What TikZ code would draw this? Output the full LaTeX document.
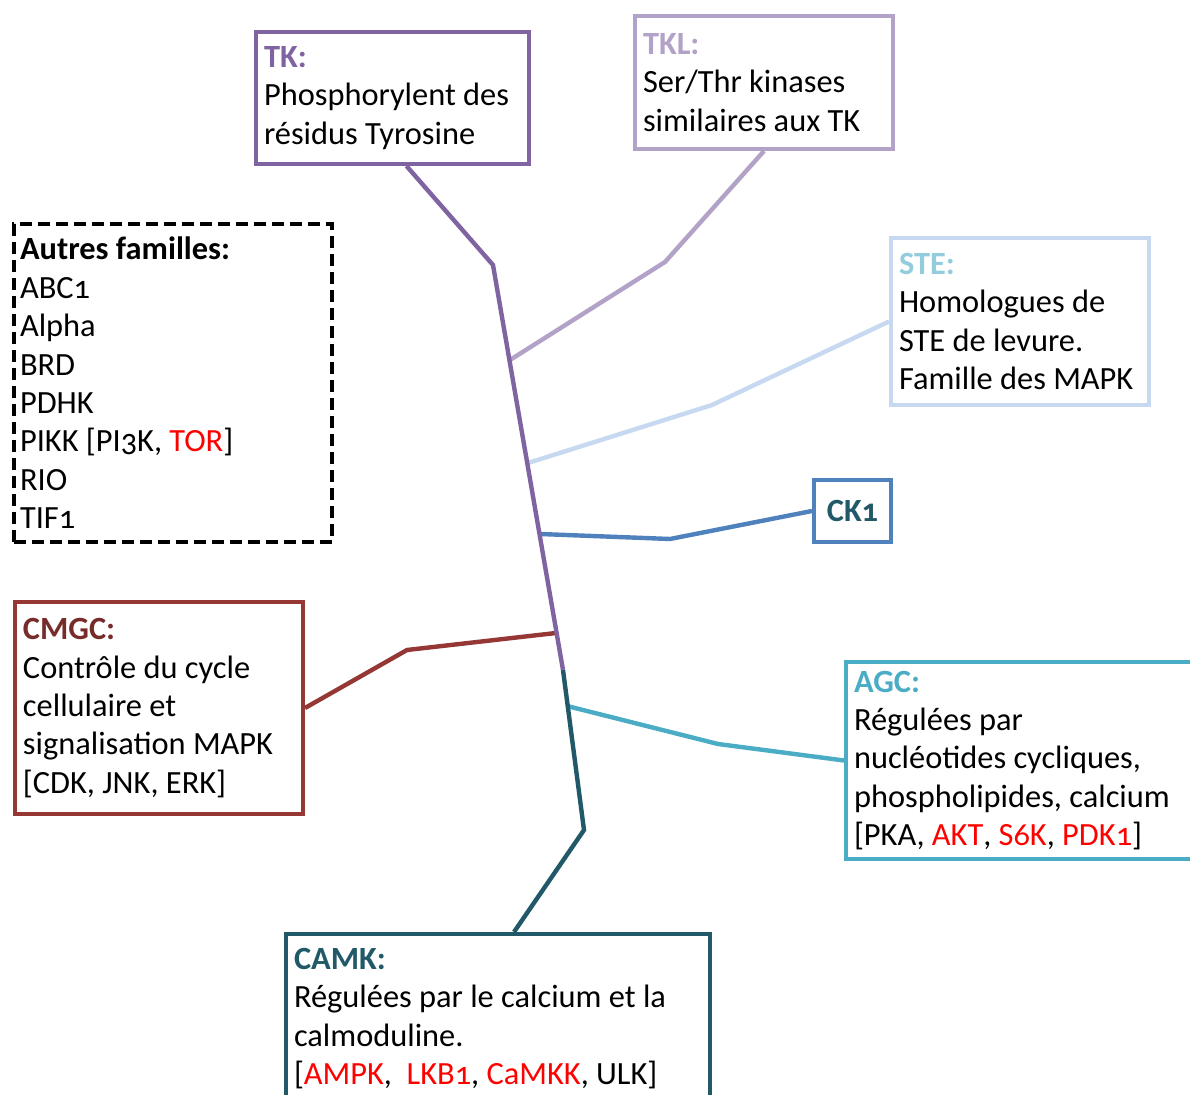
\documentclass[tikz,border=0pt]{standalone}
\usepackage{fontspec}
\setmainfont[Numbers=OldStyle]{Carlito}
\definecolor{tkcol}{HTML}{8064A2}
\definecolor{tklcol}{HTML}{B3A2C7}
\definecolor{stecol}{HTML}{C6D9F1}
\definecolor{stetxt}{HTML}{93CDDD}
\definecolor{ckcol}{HTML}{4F81BD}
\definecolor{camkcol}{HTML}{215968}
\definecolor{cmgccol}{HTML}{953735}
\definecolor{cmgctxt}{HTML}{772C2A}
\definecolor{agccol}{HTML}{4BACC6}
\definecolor{rouge}{HTML}{FF0000}
\tikzset{
 famille/.style={draw=#1,line width=2pt,fill=white,inner xsep=4pt,inner ysep=3pt,
  align=flush left,anchor=north west,font=\fontsize{16.2}{19.2}\selectfont},
 lien/.style={draw=#1,line width=2.2pt}
}
\begin{document}
\begin{tikzpicture}[x=0.5pt,y=-0.5pt]
 \clip (0,0) rectangle (1190,1095);
 \fill[white] (0,0) rectangle (1190,1095);
 \coordinate (coude) at (493,265);
 \coordinate (jtkl) at (510,360);
 \coordinate (jste) at (528,463);
 \coordinate (jck) at (540,534);
 \coordinate (jcmgc) at (556,633);
 \coordinate (jagc) at (567,706);
 \coordinate (jcamk) at (563,670);
 \coordinate (coudebas) at (584,830);
 \coordinate (ptkl) at (665,262);
 \coordinate (pste) at (712,405);
 \coordinate (pck) at (670,539);
 \coordinate (pcmgc) at (407,650);
 \coordinate (pagc) at (718,744);
 \node[famille=tkcol,text width=128.5pt,minimum height=66pt] (tk) at (254,30)
  {\textbf{\color{tkcol}TK:}\\Phosphorylent des\\résidus Tyrosine};
 \node[famille=tklcol,text width=121pt,minimum height=66.5pt] (tkl) at (633,14)
  {\textbf{\color{tklcol}TKL:}\\Ser/Thr kinases\\similaires aux TK};
 \node[famille=black,dash pattern=on 6pt off 3pt,text width=153pt,minimum height=159pt,inner xsep=3pt] (autres) at (12,222)
  {\textbf{Autres familles:}\\ABC1\\Alpha\\BRD\\PDHK\\PIKK {[}PI3K, {\color{rouge}TOR}{]}\\RIO\\TIF1};
 \node[famille=stecol,text width=121pt,minimum height=83.5pt] (ste) at (889,236)
  {\textbf{\color{stetxt}STE:}\\Homologues de\\STE de levure.\\Famille des MAPK};
 \node[famille=ckcol,minimum width=38.5pt,minimum height=31pt,align=center] (ck) at (812,478)
  {\textbf{\color{camkcol}CK1}};
 \node[famille=cmgccol,text width=136pt,minimum height=106pt] (cmgc) at (13,600)
  {\textbf{\color{cmgctxt}CMGC:}\\Contrôle du cycle\\cellulaire et\\signalisation MAPK\\{[}CDK, JNK, ERK{]}};
 \node[famille=agccol,text width=172pt,minimum height=98.5pt] (agc) at (844,660)
  {\textbf{\color{agccol}AGC:}\\Régulées par\\nucléotides cycliques,\\phospholipides, calcium\\{[}PKA, {\color{rouge}AKT}, {\color{rouge}S6K}, {\color{rouge}PDK1}{]}};
 \node[famille=camkcol,text width=204pt,inner ysep=7pt] (camk) at (284,932)
  {\textbf{\color{camkcol}CAMK:}\\Régulées par le calcium et la\\calmoduline.\\{[}{\color{rouge}AMPK},\ \ {\color{rouge}LKB1}, {\color{rouge}CaMKK}, ULK{]}};
 \draw[lien=tklcol] (tkl.south) -- (ptkl) -- (jtkl);
 \draw[lien=stecol] (ste.west) -- (pste) -- (jste);
 \draw[lien=ckcol] (ck.west) -- (pck) -- (jck);
 \draw[lien=cmgccol] (cmgc.east) -- (pcmgc) -- (jcmgc);
 \draw[lien=agccol] (agc.west) -- (pagc) -- (jagc);
 \draw[lien=camkcol] (jcamk) -- (coudebas) -- ([xshift=8pt]camk.north);
 \draw[lien=tkcol] ([xshift=7pt]tk.south) -- (coude) -- (jcamk);
\end{tikzpicture}
\end{document}
